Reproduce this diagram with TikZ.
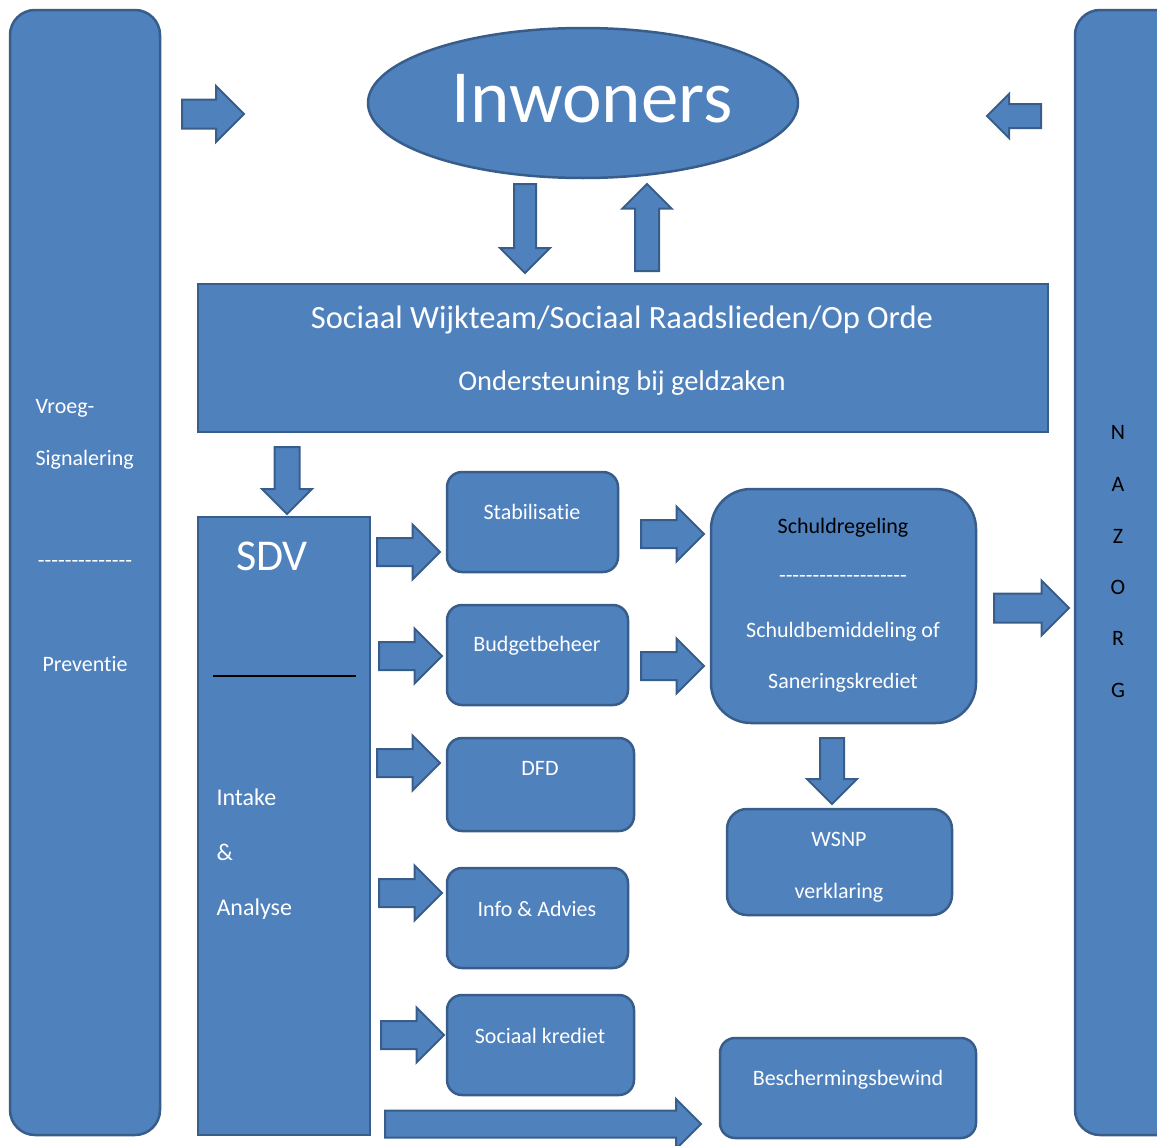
\documentclass[tikz,border=0pt]{standalone}
\usepackage{fontspec}
\setmainfont{Carlito}[Ligatures={NoCommon,TeXOff}]
\usepackage{tikz}
\usetikzlibrary{shapes.geometric,shapes.arrows}
\definecolor{vakblauw}{HTML}{4F81BD}
\definecolor{randblauw}{HTML}{385D8A}

\begin{document}
\begin{tikzpicture}[x=1pt,y=-1pt,
  blok/.style={rectangle, fill=vakblauw, draw=randblauw, line width=2.5pt, inner sep=0pt},
  rblok/.style={blok, rounded corners=15pt},
  pijl/.style args={#1/#2/#3}{single arrow, fill=vakblauw, draw=randblauw, line width=2pt,
    inner sep=#2, minimum height=#1, single arrow head extend=#3, anchor=tail},
  wit/.style={text=white, font=\fontsize{22}{26}\selectfont, anchor=base},
  zwart/.style={text=black, font=\fontsize{22}{26}\selectfont, anchor=base}
]
\useasboundingbox (0,0) rectangle (1157,1146);

% zijbalken
\node[blok, rounded corners=25pt, minimum width=150pt, minimum height=1125pt] (vroeg) at (85,572.5) {};
\node[blok, rounded corners=25pt, minimum width=160pt, minimum height=1125pt] (nazorg) at (1155,572.5) {};
\node[wit, anchor=base west] (t1) at (32,413) {Vroeg-};
\node[wit, anchor=base west] (t2) at (32,465) {Signalering};
\node[wit] (t3) at (85,567) {--------------};
\node[wit] (t4) at (85,671) {Preventie};
\foreach \letter/\yy in {N/439, A/491, Z/543, O/594, R/645, G/697}
  \node[zwart] (n\letter) at (1118,\yy) {\letter};

% inwoners
\node[ellipse, fill=vakblauw, draw=randblauw, line width=2.5pt, minimum width=430pt, minimum height=150pt] (inw) at (583,103) {};
\node[wit, font=\fontsize{75}{80}\selectfont] (inwt) at (592,122) {Inwoners};

% wijkteam
\node[blok, minimum width=850pt, minimum height=148pt] (team) at (623,358) {};
\node[wit, font=\fontsize{32.5}{36}\selectfont] (team1) at (622,328) {Sociaal Wijkteam/Sociaal Raadslieden/Op Orde};
\node[wit, font=\fontsize{28.5}{32}\selectfont] (team2) at (622,390) {Ondersteuning bij geldzaken};

% sdv
\node[blok, minimum width=172pt, minimum height=618pt] (sdv) at (284,826) {};
\node[wit, font=\fontsize{44}{48}\selectfont] (sdvt) at (272,570) {SDV};
\draw[black, line width=1.5pt] (213,676) -- (356,676);
\node[wit, font=\fontsize{24}{28}\selectfont, anchor=base west] (ia1) at (213,805) {Intake};
\node[wit, font=\fontsize{24}{28}\selectfont, anchor=base west] (ia2) at (213,860) {\&};
\node[wit, font=\fontsize{24}{28}\selectfont, anchor=base west] (ia3) at (213,915) {Analyse};

% trajecten
\node[rblok, minimum width=171pt, minimum height=100pt] (stab) at (532.5,522) {};
\node[wit] (stabt) at (532,519) {Stabilisatie};
\node[rblok, minimum width=181pt, minimum height=100pt] (budget) at (537.5,655) {};
\node[wit] (budgett) at (537,651) {Budgetbeheer};
\node[rblok, minimum width=187pt, minimum height=93pt] (dfd) at (540.5,784.5) {};
\node[wit] (dfdt) at (540,775) {DFD};
\node[rblok, minimum width=181pt, minimum height=100pt] (info) at (537.5,918) {};
\node[wit] (infot) at (537,916) {Info \& Advies};
\node[rblok, minimum width=187pt, minimum height=100pt] (krediet) at (540.5,1045) {};
\node[wit] (kredt) at (540,1043) {Sociaal krediet};

% schuldregeling
\node[rblok, rounded corners=40pt, minimum width=265pt, minimum height=234pt] (schuld) at (843.5,606) {};
\node[zwart] (schuld1) at (843,533) {Schuldregeling};
\node[wit] (schuld2) at (843,582) {-------------------};
\node[wit] (schuld3) at (843,637) {Schuldbemiddeling of};
\node[wit] (schuld4) at (843,688) {Saneringskrediet};
\node[rblok, rounded corners=20pt, minimum width=225pt, minimum height=106pt] (wsnp) at (839.5,862) {};
\node[wit] (wsnp1) at (839,846) {WSNP};
\node[wit] (wsnp2) at (839,898) {verklaring};
\node[rblok, minimum width=256pt, minimum height=100pt] (bewind) at (848,1088) {};
\node[wit] (bewindt) at (848,1085) {Beschermingsbewind};

% pijlen
\node[pijl=62pt/13.5pt/13.5pt] (p1) at (181,114) {};
\node[pijl=54pt/11pt/10pt, shape border rotate=180] (p2) at (1042,116) {};
\node[pijl=89pt/10pt/14pt, shape border rotate=270] (p3) at (525,183) {};
\node[pijl=87pt/11pt/12.5pt, shape border rotate=90] (p4) at (647,272) {};
\node[pijl=67pt/11.5pt/12.5pt, shape border rotate=270] (p5) at (287,446) {};
\foreach \xx/\yy [count=\i] in {376/552, 378/656, 376/763, 378/893, 380/1035}
  \node[pijl=63pt/13pt/13.5pt] (r\i) at (\xx,\yy) {};
\node[pijl=63pt/13pt/13.5pt] (s1) at (640,534) {};
\node[pijl=63pt/13pt/13.5pt] (s2) at (640,666) {};
\node[pijl=75pt/13.5pt/13pt] (p6) at (993,608) {};
\node[pijl=66pt/11pt/13pt, shape border rotate=270] (p7) at (832,737) {};
\node[pijl=316pt/12.5pt/11.5pt] (p8) at (384,1124) {};
\end{tikzpicture}
\end{document}
